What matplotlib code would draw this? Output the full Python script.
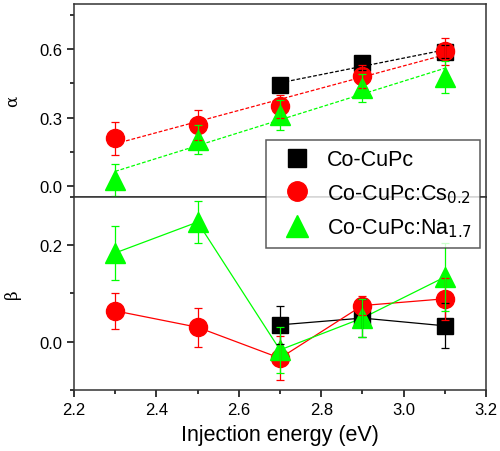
import numpy as np
import matplotlib
matplotlib.use('Agg')
import matplotlib.pyplot as plt
from matplotlib.lines import Line2D
from matplotlib.ticker import MultipleLocator, FormatStrFormatter

plt.rcParams['font.family'] = ['Liberation Sans', 'DejaVu Sans']

# injection energies (eV)
x_all = [2.3, 2.5, 2.7, 2.9, 3.1]
x_cupc = [2.7, 2.9, 3.1]

# alpha (top panel)
alpha_cupc = [0.445, 0.541, 0.59]
alpha_cupc_err = [0.03, 0.03, 0.03]
alpha_cs = [0.209, 0.268, 0.35, 0.482, 0.592]
alpha_cs_err = [0.072, 0.066, 0.05, 0.05, 0.06]
alpha_na = [0.026, 0.203, 0.31, 0.43, 0.48]
alpha_na_err = [0.07, 0.065, 0.065, 0.06, 0.07]

# beta (bottom panel)
beta_cupc = [0.035, 0.049, 0.033]
beta_cupc_err = [0.04, 0.04, 0.047]
beta_cs = [0.064, 0.030, -0.034, 0.075, 0.089]
beta_cs_err = [0.038, 0.04, 0.045, 0.02, 0.044]
beta_na = [0.184, 0.248, -0.017, 0.049, 0.134]
beta_na_err = [0.056, 0.043, 0.048, 0.039, 0.07]

labels = ['Co-CuPc', 'Co-CuPc:Cs$_{0.2}$', 'Co-CuPc:Na$_{1.7}$']
colors = ['black', '#ff0000', '#00ff00']
markers = ['s', 'o', '^']
msizes = [12, 13, 15]

fig = plt.figure(figsize=(5.0, 4.52), dpi=100)
ax1 = fig.add_axes([0.148, 0.562, 0.824, 0.427])
ax2 = fig.add_axes([0.148, 0.135, 0.824, 0.427])

top_data = [(x_cupc, alpha_cupc, alpha_cupc_err),
            (x_all, alpha_cs, alpha_cs_err),
            (x_all, alpha_na, alpha_na_err)]
bot_data = [(x_cupc, beta_cupc, beta_cupc_err),
            (x_all, beta_cs, beta_cs_err),
            (x_all, beta_na, beta_na_err)]

for i, (xs, ys, es) in enumerate(top_data):
    xs = np.array(xs)
    ys = np.array(ys)
    # linear fit drawn as dashed line
    p = np.polyfit(xs, ys, 1)
    xf = np.array([xs[0], xs[-1]])
    ax1.plot(xf, np.polyval(p, xf), ls=(0, (3, 1.5)), lw=0.9, color=colors[i], zorder=2)
    ax1.plot(xs, ys, ls='none', marker=markers[i], ms=msizes[i], color=colors[i], zorder=3)
    ax1.errorbar(xs, ys, yerr=es, fmt='none', ecolor=colors[i], elinewidth=0.9,
                 capsize=3, capthick=0.9, zorder=4)

for i, (xs, ys, es) in enumerate(bot_data):
    ax2.plot(xs, ys, ls='-', lw=0.9, color=colors[i], zorder=2)
    ax2.plot(xs, ys, ls='none', marker=markers[i], ms=msizes[i], color=colors[i], zorder=3)
    ax2.errorbar(xs, ys, yerr=es, fmt='none', ecolor=colors[i], elinewidth=0.9,
                 capsize=3, capthick=0.9, zorder=4)

ax1.set_xlim(2.2, 3.2)
ax1.set_ylim(-0.05, 0.8)
ax1.yaxis.set_major_locator(MultipleLocator(0.3))
ax1.yaxis.set_minor_locator(MultipleLocator(0.15))
ax1.set_xticks([])
ax1.set_ylabel('α', family=['DejaVu Serif'], fontsize=12, labelpad=13)

ax2.set_xlim(2.2, 3.2)
ax2.set_ylim(-0.1, 0.3)
ax2.yaxis.set_major_locator(MultipleLocator(0.2))
ax2.yaxis.set_minor_locator(MultipleLocator(0.1))
ax2.xaxis.set_major_locator(MultipleLocator(0.2))
ax2.xaxis.set_minor_locator(MultipleLocator(0.1))
ax2.set_ylabel('β', family=['DejaVu Serif'], fontsize=12, labelpad=13)
ax2.set_xlabel('Injection energy (eV)', fontsize=15.5, labelpad=5)

for ax in (ax1, ax2):
    for s in ax.spines.values():
        s.set_linewidth(1.1)
        s.set_color('#333333')
    ax.tick_params(which='major', direction='out', length=5, width=1.1, labelsize=12,
                   top=False, right=False)
    ax.tick_params(which='minor', direction='out', length=3, width=1.1, top=False, right=False)
    ax.yaxis.set_major_formatter(FormatStrFormatter('%.1f'))
ax1.tick_params(axis='x', which='both', bottom=False)

handles = [Line2D([], [], ls='none', marker=markers[i], ms=msizes[i] + 1, color=colors[i])
           for i in range(3)]
leg = fig.legend(handles, labels, loc='upper left', bbox_to_anchor=(0.532, 0.688),
                 fontsize=15.5, frameon=True, fancybox=False, handlelength=2.0,
                 handletextpad=0.4, labelspacing=0.55, borderpad=0.42, borderaxespad=0)
leg.get_frame().set_edgecolor('#333333')
leg.get_frame().set_linewidth(1.1)
leg.set_zorder(10)

fig.savefig('out.png', dpi=100)
